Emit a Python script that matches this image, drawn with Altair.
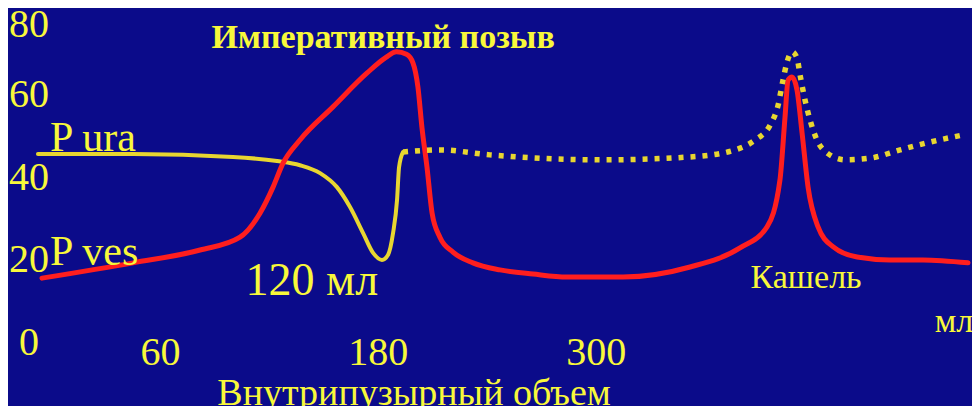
import altair as alt
import pandas as pd

# ---- data (volume in ml, pressure) ----
ves_x = [-5.3, 44.9, 81.8, 103.8, 114.8, 122.0, 127.5, 136.8, 155.0, 173.8, 184.0, 190.0, 195.5,
         199.1, 201.8, 204.0, 206.8, 209.6, 213.9, 221.1, 232.1, 247.0, 265.2, 283.9, 314.8,
         351.7, 379.2, 394.1, 401.2, 404.0, 405.7, 407.9, 410.6, 413.4, 416.7, 422.2, 430.4,
         443.7, 461.8, 480.0, 504.8]
ves_y = [15.7, 19.4, 22.5, 25.6, 31.4, 37.7, 43.5, 49.1, 57.1, 65.3, 69.0, 70.4, 69.8,
         67.7, 61.9, 52.2, 42.5, 31.4, 25.6, 22.0, 19.4, 17.7, 16.7, 16.0, 16.0,
         18.4, 23.0, 28.1, 39.4, 54.6, 63.6, 64.3, 61.2, 50.8, 37.7, 28.1, 23.3,
         20.8, 20.1, 20.1, 19.4]

ura_x = [-7.5, 44.9, 99.9, 124.2, 136.8, 147.9, 157.2, 164.4, 171.6, 177.1, 182.0, 185.3,
         188.1, 190.3, 191.4, 193.6]
ura_y = [45.7, 45.7, 45.0, 44.0, 43.0, 41.1, 37.7, 32.9, 26.6, 21.8, 20.1, 21.3,
         26.6, 34.6, 42.5, 46.2]

dot_x = [193.6, 214.0, 241.5, 302.1, 351.7, 376.5, 387.5, 395.8, 400.2, 402.9, 405.1, 407.9,
         410.6, 412.3, 415.0, 417.8, 421.6, 427.1, 437.1, 450.8, 467.4, 483.9, 502.1]
dot_y = [46.2, 46.7, 45.5, 44.3, 45.0, 46.7, 49.1, 52.7, 57.5, 63.6, 67.9, 70.4,
         68.9, 64.8, 58.8, 53.9, 49.1, 46.0, 44.3, 44.7, 46.7, 48.6, 50.3]

y_ticks = [0, 20, 40, 60, 80]
x_ticks = [60, 180, 300]

# annotations: text, x (ml), y (pressure)
ann_text = ["Императивный позыв", "120 мл", "Кашель", "мл", "Внутрипузырный объем", "P ura", "P ves"]
ann_x = [182.6, 143.4, 415.6, 486.5, 199.7, -0.9, -0.9]
ann_y = [73.7, 15.0, 15.7, 5.1, -12.3, 49.6, 22.0]

BG = "#0b0b8a"
TXT = "#f8f83a"
RED = "#ff1e1e"
YEL = "#e8d630"
FONT = "Liberation Serif"

xs = alt.Scale(domain=[-24, 507], nice=False, zero=False)
ys = alt.Scale(domain=[-15.2, 81], nice=False, zero=False)

def enc(ch):
    return ch.encode(
        x=alt.X("x:Q", scale=xs, axis=None),
        y=alt.Y("y:Q", scale=ys, axis=None),
    )

def line(x, y, color, width, dash=None):
    df = pd.DataFrame({"x": x, "y": y})
    kw = dict(color=color, strokeWidth=width, interpolate="monotone", clip=False)
    if dash:
        kw["strokeDash"] = dash
        kw["strokeCap"] = "butt"
    else:
        kw["strokeCap"] = "round"
    return enc(alt.Chart(df).mark_line(**kw))

ura = line(ura_x, ura_y, YEL, 4)
ves = line(ves_x, ves_y, RED, 5)
dots = line(dot_x, dot_y, YEL, 5.5, dash=[5, 7])

ydf = pd.DataFrame({"y": y_ticks, "x": [-12.4] * len(y_ticks), "label": [str(v) for v in y_ticks]})
ytext_low = enc(alt.Chart(ydf).transform_filter("datum.y < 80").mark_text(
    font=FONT, fontSize=40, color=TXT, align="center", baseline="middle")).encode(text="label:N")
ytext_top = enc(alt.Chart(ydf).transform_filter("datum.y >= 80").mark_text(
    font=FONT, fontSize=40, color=TXT, align="center", baseline="middle", dy=13)).encode(text="label:N")

xdf = pd.DataFrame({"x": x_ticks, "y": [-2.5] * len(x_ticks), "label": [str(v) for v in x_ticks]})
xtext = enc(alt.Chart(xdf).mark_text(font=FONT, fontSize=40, color=TXT, align="center",
                                     baseline="middle")).encode(text="label:N")

styles = [
    dict(fontSize=34, fontWeight="bold", align="center"),
    dict(fontSize=46, align="center"),
    dict(fontSize=34, align="center"),
    dict(fontSize=34, align="left"),
    dict(fontSize=38, align="center"),
    dict(fontSize=42, align="left"),
    dict(fontSize=42, align="left"),
]
ann_layers = []
for t, x, y, st in zip(ann_text, ann_x, ann_y, styles):
    d = pd.DataFrame({"t": [t], "x": [x], "y": [y]})
    ann_layers.append(
        enc(alt.Chart(d).mark_text(font=FONT, color=TXT, baseline="middle", **st)).encode(text="t:N")
    )

chart = alt.layer(ura, ves, dots, ytext_low, ytext_top, xtext, *ann_layers).properties(
    width=964, height=398, background=BG, padding=0, autosize=alt.AutoSizeParams(type="none")
).configure_view(strokeWidth=0)

chart.save("out.html", embed_options={"renderer": "svg", "actions": False})
